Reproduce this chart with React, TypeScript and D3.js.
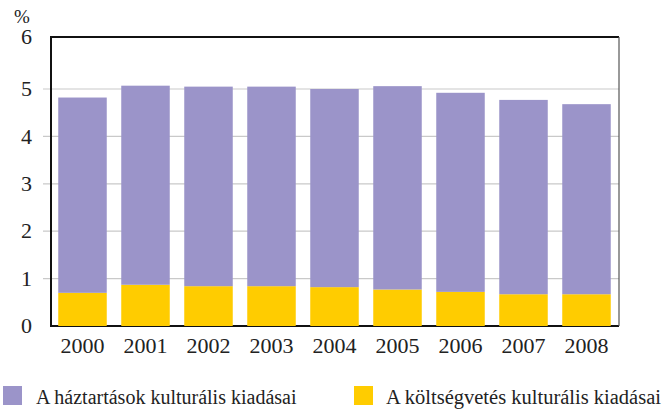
import React from "react";
import * as d3 from "d3";

const years = ["2000", "2001", "2002", "2003", "2004", "2005", "2006", "2007", "2008"];
const budget = [0.7, 0.87, 0.84, 0.84, 0.82, 0.77, 0.72, 0.67, 0.67];
const household = [4.12, 4.2, 4.21, 4.21, 4.18, 4.29, 4.2, 4.1, 4.01];
const yTicks = [0, 1, 2, 3, 4, 5];
const seriesNames = ["A háztartások kulturális kiadásai", "A költségvetés kulturális kiadásai"];
const colors = { household: "#9b94c9", budget: "#ffcc00" };

export default function App() {
  const W = 671, H = 409;
  const left = 51, right = 619, top = 37, bottom = 326;
  const x = d3.scaleBand().domain(years).range([left, right - 1]).paddingInner(0.23).paddingOuter(0.115);
  const y = d3.scaleLinear().domain([0, 5]).range([bottom, 89]);
  const fs = { fontFamily: '"Liberation Serif"' };
  return (
    <svg width={W} height={H} style={{ position: "absolute", left: 0, top: 0 }}>
      <rect width={W} height={H} fill="#fff" />
      {yTicks.slice(1).map((t) => (
        <line key={t} x1={43} x2={right} y1={y(t)} y2={y(t)} stroke="#c9c9c9" strokeWidth={1.2} />
      ))}
      <line x1={left} x2={right} y1={bottom} y2={bottom} stroke="#111" strokeWidth={2} />
      {years.map((yr, i) => {
        const bx = x(yr)!;
        const b = budget[i];
        const h = household[i];
        return (
          <g key={yr}>
            <rect x={bx} width={x.bandwidth()} y={y(b)} height={y(0) - y(b)} fill={colors.budget} />
            <rect x={bx} width={x.bandwidth()} y={y(b + h)} height={y(b) - y(b + h)} fill={colors.household} />
          </g>
        );
      })}
      <line x1={left} x2={right} y1={top} y2={top} stroke="#111" strokeWidth={2} />
      <line x1={left} x2={left} y1={top - 1} y2={bottom + 1} stroke="#111" strokeWidth={2} />
      <line x1={right} x2={right} y1={top} y2={bottom} stroke="#555" strokeWidth={1.2} />
      <text x={22} y={23} fontSize={19} textAnchor="middle" fill="#222" style={fs}>%</text>
      {yTicks.map((t) => (
        <text key={t} x={32} y={y(t)} dy="0.33em" fontSize={22} textAnchor="end" fill="#222" style={fs}>{t}</text>
      ))}
      <text x={32} y={top} dy="0.33em" fontSize={22} textAnchor="end" fill="#222" style={fs}>6</text>
      {years.map((yr) => (
        <text key={yr} x={x(yr)! + x.bandwidth() / 2} y={353} fontSize={22} textAnchor="middle" fill="#222" style={fs}>{yr}</text>
      ))}
      <rect x={3} y={386} width={19} height={19} fill={colors.household} />
      <text x={36} y={404} fontSize={20} fill="#222" style={fs}>{seriesNames[0]}</text>
      <rect x={354} y={386} width={19} height={19} fill={colors.budget} />
      <text x={386} y={404} fontSize={20.5} fill="#222" style={fs}>{seriesNames[1]}</text>
    </svg>
  );
}
